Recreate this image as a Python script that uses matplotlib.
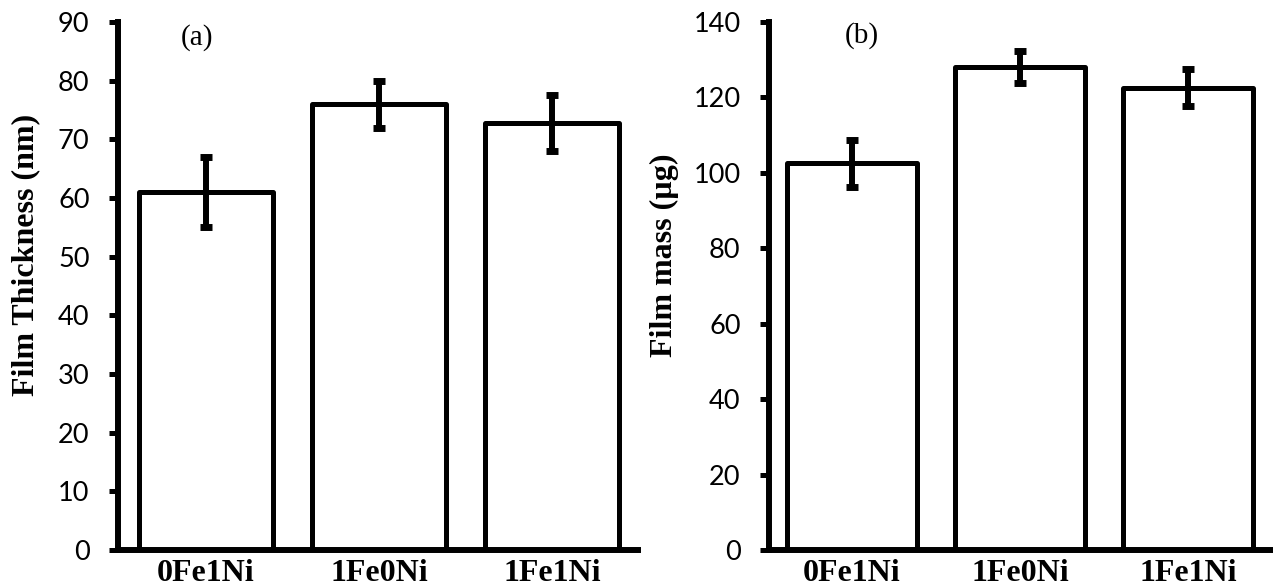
import matplotlib
matplotlib.use("Agg")
import matplotlib.pyplot as plt

categories = ["0Fe1Ni", "1Fe0Ni", "1Fe1Ni"]
thickness = [61.0, 76.0, 72.8]
thickness_err = [6.0, 4.0, 4.8]
mass = [102.5, 128.0, 122.6]
mass_err = [6.2, 4.2, 5.0]

W, H = 1273, 588
fig = plt.figure(figsize=(W / 100, H / 100), dpi=100)

sans = ["Lato", "DejaVu Sans"]
serif = ["Liberation Serif", "DejaVu Serif"]

def panel(rect, vals, errs, ymax, ystep, ylabel, tag, tagx, tagy, xlim, labx):
    ax = fig.add_axes(rect)
    x = list(range(len(categories)))
    ax.bar(x, vals, width=0.775, color="white", edgecolor="black",
           linewidth=3.6, joinstyle="round", zorder=2)
    ax.errorbar(x, vals, yerr=errs, fmt="none", ecolor="black",
                elinewidth=4.3, capsize=4.3, capthick=5, zorder=3)
    ax.set_xlim(*xlim)
    ax.set_ylim(0, ymax)
    ax.set_yticks(list(range(0, ymax + 1, ystep)))
    ax.set_xticks(x)
    ax.set_xticklabels(categories, fontfamily=serif, fontweight="bold", fontsize=23)
    for t in ax.get_yticklabels():
        t.set_fontfamily(sans)
        t.set_fontsize(19.5)
    ax.tick_params(axis="y", direction="out", length=6.5, width=3.6, pad=14)
    ax.tick_params(axis="x", length=0, pad=6.5)
    for s in ["top", "right"]:
        ax.spines[s].set_visible(False)
    for s in ["left", "bottom"]:
        ax.spines[s].set_linewidth(4.3)
    ax.set_ylabel(ylabel, fontfamily=serif, fontweight="bold", fontsize=23)
    ax.yaxis.set_label_coords(labx, 0.559)
    ax.text(tagx, tagy, tag, fontfamily=serif, fontsize=21, ha="center", va="center")
    ax.set_facecolor("none")
    return ax

panel([118 / W, 38 / H, 520 / W, 528 / H], thickness, thickness_err, 90, 10,
      "Film Thickness (nm)", "(a)", -0.05, 87.4, (-0.509, 2.497), -0.15)
panel([769 / W, 38 / H, 504 / W, 528 / H], mass, mass_err, 140, 20,
      "Film mass (\u00b5g)", "(b)", 0.06, 136.5, (-0.494, 2.506), -0.178)

fig.savefig("out.png", dpi=100)
